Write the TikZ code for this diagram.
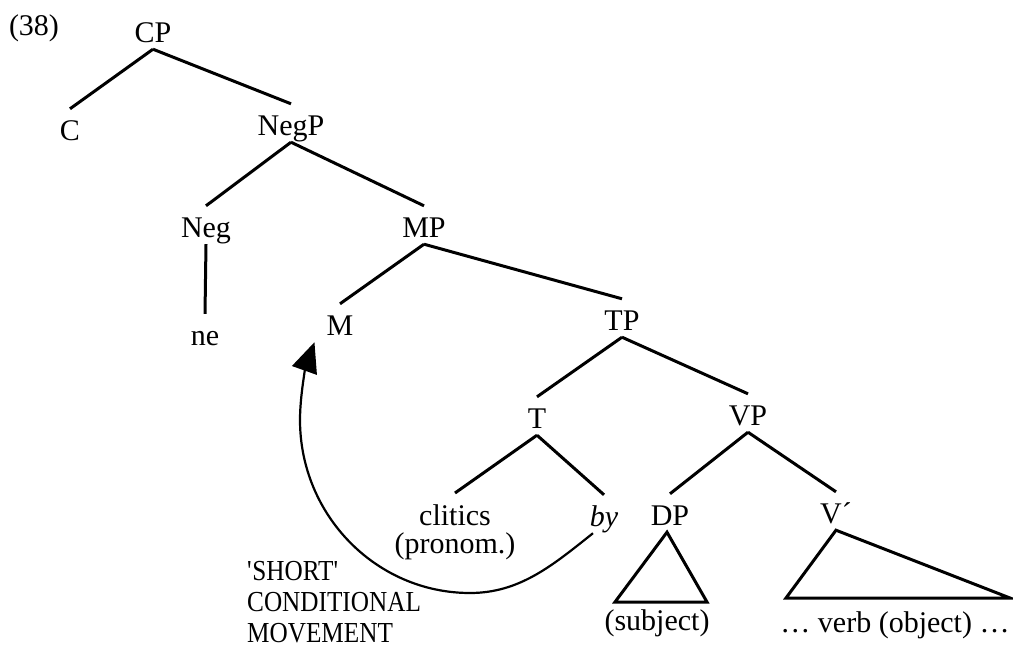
\documentclass[tikz,border=0pt]{standalone}
\usepackage{fontspec}
\setmainfont{Liberation Serif}
\newfontfamily\narrowfont[FakeStretch=0.87]{Liberation Serif}
\usetikzlibrary{arrows.meta}
\tikzset{font={\fontsize{30pt}{28pt}\selectfont}}
\tikzset{
  cat/.style={anchor=base, inner xsep=3pt, inner ysep=7pt, text height=24pt, text depth=0pt},
  branch/.style={line width=3pt},
  tri/.style={line width=3pt},
  move/.style={line width=2.2pt, -{Triangle[length=30pt,width=26pt]}},
}

\begin{document}
\begin{tikzpicture}[x=1pt,y=-1pt]
\useasboundingbox (0,0) rectangle (1013,646);

%example number
\node[cat] at (34,35) (ex) {(38)};

%categories
\node[cat] at (153,42)   (CP) {CP};
\node[cat] at (70,140)   (C) {C};
\node[cat] at (291,135)  (NegP) {NegP};
\node[cat] at (206,237)  (Neg) {Neg};
\node[cat] at (205,345)  (ne) {ne};
\node[cat] at (424,237)  (MP) {MP};
\node[cat] at (340,335)  (M) {M};
\node[cat] at (622,330)  (TP) {TP};
\node[cat] at (537,428)  (T) {T};
\node[cat] at (748,425)  (VP) {VP};
\node[anchor=north, inner xsep=3pt, inner ysep=11pt, align=center] at (455,493) (cl) {clitics\\(pronom.)};
\node[cat] at (604,526)  (by) {\textit{by}};
\node[cat] at (670,525)  (DP) {DP};
\node[cat] at (836,523)  (Vbar) {V´};

%branches
\draw[branch] (CP.south) -- (C.north);
\draw[branch] (CP.south) -- (NegP.north);
\draw[branch] (NegP.south) -- (Neg.north);
\draw[branch] (NegP.south) -- (MP.north);
\draw[branch] (Neg.south) -- (ne.north);
\draw[branch] (MP.south) -- (M.north);
\draw[branch] (MP.south) -- (TP.north);
\draw[branch] (TP.south) -- (T.north);
\draw[branch] (TP.south) -- (VP.north);
\draw[branch] (T.south) -- (cl.north);
\draw[branch] (T.south) -- (by.north);
\draw[branch] (VP.south) -- (DP.north);
\draw[branch] (VP.south) -- (Vbar.north);

%triangles
\coordinate (dpl) at (615,602);
\coordinate (dpr) at (707,602);
\draw[tri] ([xshift=-3pt]DP.south) -- (dpl) -- (dpr) -- cycle;
\node[cat] at (657,630) (subj) {(subject)};

\coordinate (vbl) at (786,598);
\coordinate (vbr) at (1010,598);
\draw[tri] (Vbar.south) -- (vbl) -- (vbr) -- cycle;
\node[cat] at (895,632) (obj) {… verb (object) …};

%movement
\draw[move] ([xshift=-11pt]by.south) .. controls (553,565) and (520,593) .. (470,593)
  .. controls (376,593) and (300,515) .. (300,420)
  .. controls (300,395) and (306,366) .. ([xshift=-9pt]M.south west);
\node[anchor=south west, inner sep=0pt, align=left, font={\narrowfont\fontsize{29pt}{31pt}\selectfont}] at (247,643) (lbl) {\textquotesingle SHORT\textquotesingle\\CONDITIONAL\\MOVEMENT};

\end{tikzpicture}
\end{document}
